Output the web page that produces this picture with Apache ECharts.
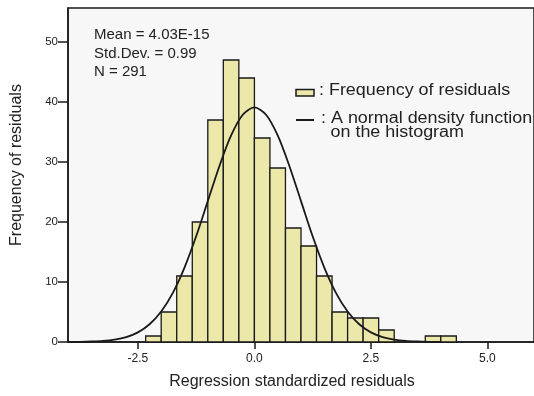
<!DOCTYPE html>
<html>
<head>
<meta charset="utf-8">
<style>
  html, body { margin: 0; padding: 0; background: #fff; }
  #chart { width: 534px; height: 396px; }
</style>
<script src="https://cdn.jsdelivr.net/npm/echarts@6/dist/echarts.min.js"></script>
</head>
<body>
<div id="chart"></div>
<script>
// histogram bins (width 1/3)
const binWidth = 1 / 3
const binStarts = [-2.333, -2, -1.667, -1.333, -1, -0.667, -0.333, 0, 0.333, 0.667, 1, 1.333, 1.667, 2, 2.333, 2.667, 3, 3.333, 3.667, 4]
const binCounts = [1, 5, 11, 20, 37, 47, 44, 34, 29, 19, 16, 11, 5, 4, 4, 2, 0, 0, 1, 1]

// normal curve
const curveX = [-4, -3.75, -3.5, -3.25, -3, -2.75, -2.5, -2.25, -2, -1.75, -1.5, -1.25, -1, -0.75, -0.5, -0.25, 0, 0.25, 0.5, 0.75, 1, 1.25, 1.5, 1.75, 2, 2.25, 2.5, 2.75, 3, 3.25, 3.5, 3.75, 4]
const curveY = [0.01, 0.03, 0.08, 0.18, 0.4, 0.83, 1.61, 2.96, 5.08, 8.2, 12.41, 17.62, 23.48, 29.34, 34.42, 37.87, 39.1, 37.87, 34.42, 29.34, 23.48, 17.62, 12.41, 8.2, 5.08, 2.96, 1.61, 0.83, 0.4, 0.18, 0.08, 0.03, 0.01]

const xTicks = [-2.5, 0, 2.5, 5]
const yTicks = [0, 10, 20, 30, 40, 50]

const statsLines = ['Mean = 4.03E-15', 'Std.Dev. = 0.99', 'N = 291']

const barFill = '#ebe8aa'
const ink = '#1a1a1a'
const font = 'Liberation Sans, Arial, sans-serif'

const chart = echarts.init(document.getElementById('chart'))

const histData = binStarts
  .map((s, i) => [s, s + binWidth, binCounts[i]])
  .filter(d => d[2] > 0)

const option = {
  animation: false,
  backgroundColor: '#fff',
  grid: {
    left: 68,
    top: 8,
    width: 467,
    height: 334,
    show: true,
    backgroundColor: '#f7f7f7',
    borderColor: ink,
    borderWidth: 1.5
  },
  xAxis: {
    type: 'value',
    min: -4,
    max: 6,
    splitLine: { show: false },
    axisLine: { onZero: false, lineStyle: { color: ink, width: 1.5 } },
    axisTick: { customValues: xTicks, length: 7, lineStyle: { color: ink, width: 1.5 } },
    axisLabel: {
      customValues: xTicks,
      formatter: v => v.toFixed(1),
      color: '#222',
      fontSize: 12,
      fontFamily: font,
      margin: 11
    }
  },
  yAxis: {
    type: 'value',
    min: 0,
    max: 55.67,
    splitLine: { show: false },
    axisLine: { show: true, onZero: false, lineStyle: { color: ink, width: 1.5 } },
    axisTick: { show: true, customValues: yTicks, length: 10, lineStyle: { color: ink, width: 1.5 } },
    axisLabel: {
      customValues: yTicks,
      color: '#222',
      fontSize: 11.5,
      fontFamily: font,
      margin: 10
    }
  },
  series: [
    {
      type: 'custom',
      data: histData,
      renderItem: (params, api) => {
        const p0 = api.coord([api.value(0), api.value(2)])
        const p1 = api.coord([api.value(1), 0])
        return {
          type: 'rect',
          shape: { x: p0[0], y: p0[1], width: p1[0] - p0[0], height: p1[1] - p0[1] },
          style: { fill: barFill, stroke: ink, lineWidth: 1.3 }
        }
      },
      z: 2
    },
    {
      type: 'line',
      data: curveX.map((x, i) => [x, curveY[i]]),
      smooth: 0.3,
      symbol: 'none',
      lineStyle: { color: ink, width: 1.8 },
      z: 3
    }
  ],
  graphic: [
    ...statsLines.map((t, i) => ({
      type: 'text',
      x: 94,
      y: 34.7 + i * 18.7,
      style: { text: t, font: '15px ' + font, fill: '#222', verticalAlign: 'middle' },
      z: 10
    })),
    // legend
    {
      type: 'rect',
      shape: { x: 296, y: 89.5, width: 18, height: 6.5 },
      style: { fill: barFill, stroke: ink, lineWidth: 1.5 },
      z: 10
    },
    {
      type: 'text',
      x: 319,
      y: 90.8,
      scaleX: 1.12,
      style: { text: ': Frequency of residuals', font: '16px ' + font, fill: '#222', verticalAlign: 'middle' },
      z: 10
    },
    {
      type: 'line',
      shape: { x1: 296, y1: 120, x2: 314, y2: 120 },
      style: { stroke: ink, lineWidth: 2 },
      z: 10
    },
    {
      type: 'text',
      x: 321,
      y: 118.5,
      scaleX: 1.12,
      style: { text: ': A normal density function', font: '16px ' + font, fill: '#222', verticalAlign: 'middle' },
      z: 10
    },
    {
      type: 'text',
      x: 330.5,
      y: 132.3,
      scaleX: 1.12,
      style: { text: 'on the histogram', font: '16px ' + font, fill: '#222', verticalAlign: 'middle' },
      z: 10
    },
    // axis names
    {
      type: 'text',
      x: 17,
      y: 165,
      rotation: Math.PI / 2,
      style: { text: 'Frequency of residuals', font: '16px ' + font, fill: '#222', align: 'center', verticalAlign: 'middle' }
    },
    {
      type: 'text',
      x: 292,
      y: 382,
      style: { text: 'Regression standardized residuals', font: '16px ' + font, fill: '#222', align: 'center', verticalAlign: 'middle' }
    }
  ]
}

chart.setOption(option)

window.addEventListener('resize', () => chart.resize())
</script>
</body>
</html>
